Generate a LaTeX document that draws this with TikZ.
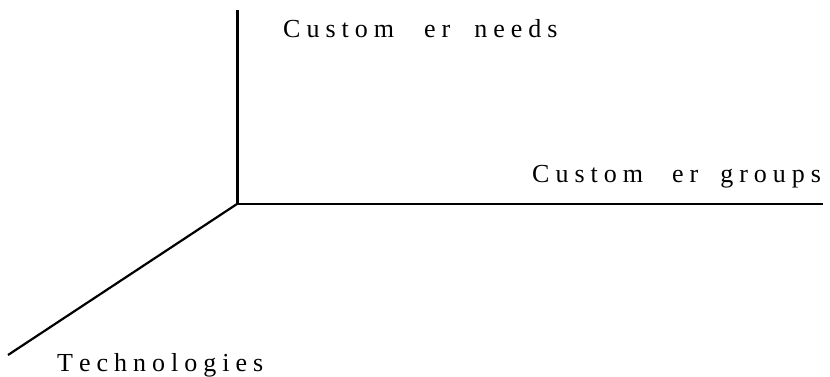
\documentclass[tikz,border=0pt]{standalone}
\usepackage{fontspec}
\setmainfont{Liberation Serif}
\newcommand\spc[1]{\spcA#1\relax}
\def\spcA#1#2{#1\ifx#2\relax\else\kern6pt\expandafter\spcA\expandafter#2\fi}
\tikzset{
  axis/.style={draw=black, line width=2.2pt},
  lbl/.style={anchor=base west, inner sep=0pt, font=\fontsize{26}{30}\selectfont}
}
\begin{document}
\begin{tikzpicture}[x=1pt,y=1pt]
\useasboundingbox (0,0) rectangle (830,377);
\coordinate (O) at (237,173);
\coordinate (T) at (237,367);
\coordinate (R) at (823,173);
\coordinate (L) at (8,22);
\draw[axis, line width=3pt] (O) -- (T);
\draw[axis] (O) -- (R);
\draw[axis] (O) -- (L);
\node[lbl] (needs) at (283,339) {\spc{Custom}\hspace{30pt}\spc{er}\hspace{24pt}\spc{needs}};
\node[lbl] (groups) at (532,194) {\spc{Custom}\hspace{29pt}\spc{er}\hspace{22pt}\spc{groups}};
\node[lbl] (tech) at (57,5) {\spc{Technologies}};
\end{tikzpicture}
\end{document}
